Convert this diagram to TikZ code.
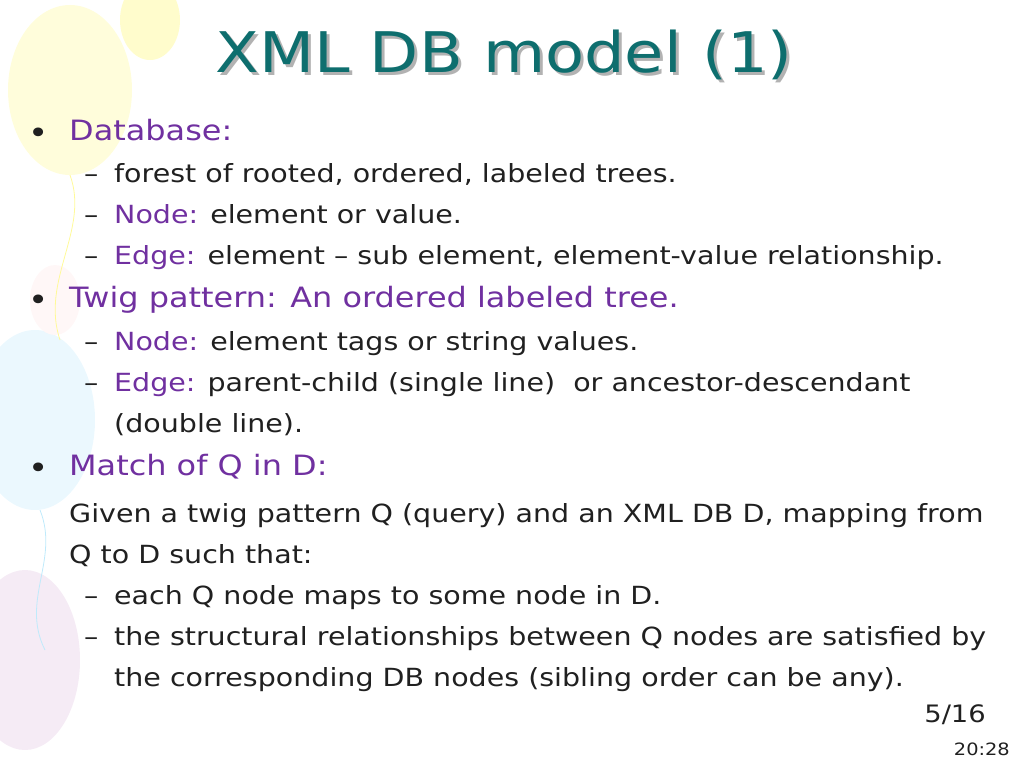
\documentclass[tikz,border=0pt]{standalone}
\usepackage{fontspec}
\setmainfont{DejaVu Sans}[FakeStretch=1.14]
\definecolor{ttl}{HTML}{0E6E6E}
\definecolor{pur}{HTML}{7030A0}
\definecolor{txt}{HTML}{202020}
\begin{document}
\begin{tikzpicture}[x=1pt,y=-1pt,
  l1/.style={anchor=base west,font=\fontsize{28}{30}\selectfont,text=pur,inner sep=0},
  l2/.style={anchor=base west,font=\fontsize{25}{28}\selectfont,text=txt,inner sep=0},
  bul/.style={anchor=base west,font=\fontsize{30}{30}\selectfont,text=txt,inner sep=0}]
\useasboundingbox (0,0) rectangle (1024,768);
% balloons
\fill[yellow!14] (70,90) ellipse (62 and 85);
\fill[yellow!20] (150,20) ellipse (30 and 40);
\fill[cyan!8] (35,420) ellipse (60 and 90);
\fill[violet!8] (25,660) ellipse (55 and 90);
\fill[pink!12] (55,300) ellipse (25 and 35);
\draw[yellow!40,thick] (70,175) .. controls (90,230) and (40,280) .. (60,340);
\draw[cyan!25,thick] (40,510) .. controls (60,560) and (20,600) .. (45,650);
% title
\node[anchor=base,font=\fontsize{56}{58}\selectfont,text=gray!60,inner sep=0] at (507,75) {XML DB model (1)};
\node[anchor=base,font=\fontsize{56}{58}\selectfont,text=ttl,inner sep=0] (title) at (504,72) {XML DB model (1)};
% body
\node[bul] (b1) at (28,143) {•};
\node[l1] (t1) at (69,140) {Database:};
\node[l2] (d2) at (84,182) {–};
\node[l2] (t2) at (114,182) {forest of rooted, ordered, labeled trees.};
\node[l2] (d3) at (84,223) {–};
\node[l2] (t3) at (114,223) {\textcolor{pur}{Node:} element or value.};
\node[l2] (d4) at (84,264) {–};
\node[l2] (t4) at (114,264) {\textcolor{pur}{Edge:} element – sub element, element-value relationship.};
\node[bul] (b2) at (28,310) {•};
\node[l1] (t5) at (69,307) {Twig pattern: An ordered labeled tree.};
\node[l2] (d6) at (84,350) {–};
\node[l2] (t6) at (114,350) {\textcolor{pur}{Node:} element tags or string values.};
\node[l2] (d7) at (84,391) {–};
\node[l2] (t7) at (114,391) {\textcolor{pur}{Edge:} parent-child (single line)\ \ or ancestor-descendant};
\node[l2] (t8) at (114,432) {(double line).};
\node[bul] (b3) at (28,478) {•};
\node[l1] (t9) at (69,475) {Match of Q in D:};
\node[l2] (t10) at (69,522) {Given a twig pattern Q (query) and an XML DB D, mapping from};
\node[l2] (t11) at (69,563) {Q to D such that:};
\node[l2] (d12) at (84,604) {–};
\node[l2] (t12) at (114,604) {each Q node maps to some node in D.};
\node[l2] (d13) at (84,645) {–};
\node[l2] (t13) at (114,645) {the structural relationships between Q nodes are satisfied by};
\node[l2] (t14) at (114,686) {the corresponding DB nodes (sibling order can be any).};
\node[anchor=base east,font=\fontsize{24}{26}\selectfont,text=txt,inner sep=0] (pg) at (986,722) {5/16};
\node[anchor=base east,font=\fontsize{17}{19}\selectfont,text=txt,inner sep=0] (tm) at (1010,755) {20:28};
\end{tikzpicture}
\end{document}
